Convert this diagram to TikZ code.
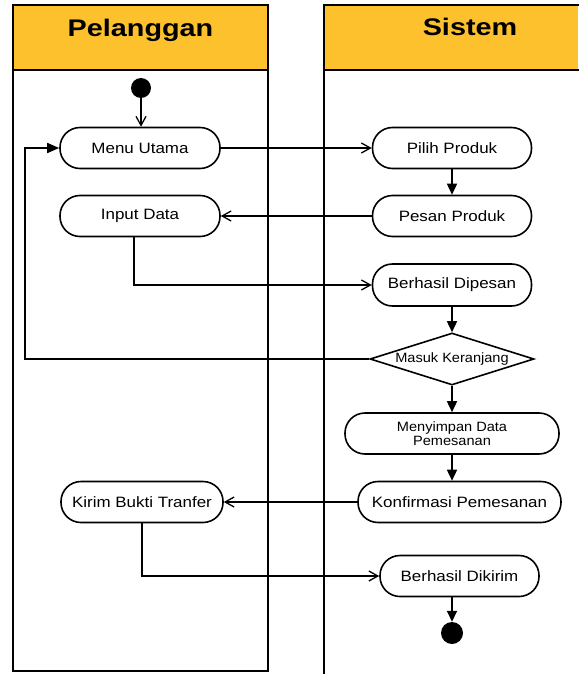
\documentclass[tikz,border=0pt]{standalone}
\usepackage{fontspec}
\setmainfont{Liberation Sans}
\newfontfamily\hdfont[FakeStretch=1.2]{Liberation Sans}
\newfontfamily\ndfont[FakeStretch=1.13]{Liberation Sans}
\newfontfamily\smfont[FakeStretch=1.08]{Liberation Sans}
\usetikzlibrary{arrows.meta,shapes.geometric}
\definecolor{hdyellow}{RGB}{252,193,45}
\tikzset{
  lane/.style={line width=2pt},
  act/.style={draw, line width=1.6pt, rounded corners=20pt, minimum height=41pt, inner sep=0pt, font=\ndfont\fontsize{15}{17}\selectfont},
  decis/.style={draw, diamond, line width=1.6pt, aspect=3.15, inner sep=0pt, minimum width=164pt, minimum height=52pt, font=\smfont\fontsize{13.5}{14}\selectfont},
  dot/.style={circle, fill=black, inner sep=0pt},
  hd/.style={font=\hdfont\bfseries\fontsize{24}{26}\selectfont, anchor=base},
  openarr/.style={line width=1.3pt, -{Straight Barb[length=9pt,width=10pt,line width=1.3pt]}},
  fillarr/.style={line width=1.6pt, -{Triangle[length=11pt,width=10pt]}},
}
\begin{document}
\begin{tikzpicture}[x=1pt,y=-1pt]
\useasboundingbox (0,0) rectangle (578,674);
% lanes
\fill[hdyellow] (13,5) rectangle (268,70);
\fill[hdyellow] (324,5) rectangle (578,70);
\draw[lane] (13,5) rectangle (268,671);
\draw[lane] (13,70) -- (268,70);
\draw[lane] (324,674) -- (324,5) -- (579,5);
\draw[lane] (324,70) -- (579,70);
\node[hd] (hp) at (140.5,37) {Pelanggan};
\node[hd] (hs) at (470,36) {Sistem};
% nodes
\node[dot, minimum size=20pt] (start) at (141,88) {};
\node[act, minimum width=160pt] (menu) at (140,148) {Menu Utama};
\node[act, minimum width=159pt] (pilih) at (452,148) {Pilih Produk};
\node[act, minimum width=160pt] (input) at (140,216) {Input Data};
\node[act, minimum width=159pt] (pesan) at (452,216) {Pesan Produk};
\node[act, minimum width=159pt, minimum height=42pt] (berp) at (452,285) {Berhasil Dipesan};
\node[decis] (masuk) at (452,359) {Masuk Keranjang};
\node[act, minimum width=214pt, align=center, font=\smfont\fontsize{13.5}{14}\selectfont] (simpan) at (452,433.5) {Menyimpan Data\\Pemesanan};
\node[act, minimum width=203pt] (konf) at (459.5,502) {Konfirmasi Pemesanan};
\node[act, minimum width=162pt] (kirim) at (142,502) {Kirim Bukti Tranfer};
\node[act, minimum width=159pt] (berk) at (459.5,576) {Berhasil Dikirim};
\node[dot, minimum size=22pt] (end) at (452,633) {};
\coordinate (loopb) at (25,359);
\coordinate (loopt) at (25,148);
\coordinate (inturn) at (134,285);
\coordinate (kturn) at (142,576);
% connectors
\draw[openarr] (start) -- (menu.north -| start);
\draw[openarr] (menu) -- (pilih);
\draw[fillarr] (pilih) -- (pesan);
\draw[openarr] (pesan) -- (input);
\draw[openarr] (input.south -| inturn) -- (inturn) -- (berp.west);
\draw[fillarr] (berp) -- (masuk);
\draw[line width=1.6pt, -{Triangle[length=12pt,width=10pt]}] (masuk.west) -- (loopb) -- (loopt) -- (menu.west);
\draw[fillarr] (masuk) -- (simpan.north -| masuk);
\draw[fillarr] (simpan.south -| masuk) -- (konf.north -| masuk);
\draw[openarr] (konf) -- (kirim);
\draw[openarr] (kirim.south) -- (kturn) -- (berk.west);
\draw[fillarr] (berk.south -| end) -- (end);
\end{tikzpicture}
\end{document}
